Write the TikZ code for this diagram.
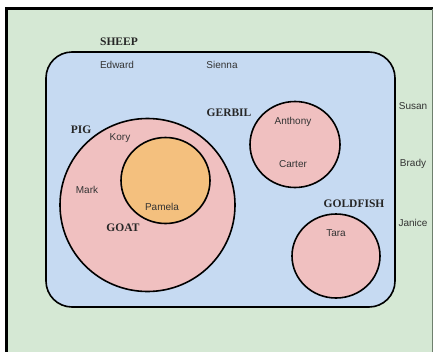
\documentclass[tikz,border=0pt]{standalone}
\usepackage{fontspec}
\setmainfont{Liberation Serif}
\setsansfont{Liberation Sans}
\usetikzlibrary{shapes.geometric}
\definecolor{outergreen}{HTML}{D5E8D4}
\definecolor{sheepblue}{HTML}{C6DAF2}
\definecolor{pinkfill}{HTML}{F0C0C0}
\definecolor{orangefill}{HTML}{F4C07E}
\definecolor{nametext}{HTML}{333333}
\definecolor{edgegray}{HTML}{6E7F6D}
\tikzset{
  setcircle/.style={draw=black, line width=1.6pt, fill=pinkfill, ellipse, inner sep=0pt},
  namelabel/.style={font=\sffamily\fontsize{10}{12}\selectfont, text=nametext, inner sep=0pt},
  setlabel/.style={font=\rmfamily\bfseries\fontsize{11.5}{13}\selectfont, text=black!85, inner sep=0pt}
}
\begin{document}
\begin{tikzpicture}[x=1pt,y=-1pt]
\useasboundingbox (0,0) rectangle (433,351);
\begin{scope}
\clip (0,0) rectangle (433,351);
\path[fill=white] (0,0) rectangle (433,351);
\fill[outergreen] (6.5,8.5) rectangle (440,370);
\draw[line width=2.2pt] (6.5,370) -- (6.5,8.5) -- (440,8.5);
\draw[edgegray, line width=1pt] (432.5,8.5) -- (432.5,370);
\end{scope}
% SHEEP rounded box
\node[draw=black, line width=1.6pt, fill=sheepblue, rounded corners=26pt,
      minimum width=349pt, minimum height=255pt, inner sep=0pt] (sheep) at (220.5,179.5) {};
% PIG circle
\node[setcircle, minimum width=175pt, minimum height=173pt] (pig) at (147.5,205) {};
% GOAT circle (Pamela)
\node[setcircle, fill=orangefill, minimum width=89pt, minimum height=86pt] (goat) at (165.5,180.5) {};
% GERBIL circle
\node[setcircle, minimum width=90pt, minimum height=86pt] (gerbil) at (295,144.5) {};
% GOLDFISH circle
\node[setcircle, minimum width=88pt, minimum height=84pt] (goldfish) at (336,256) {};
% set labels
\node[setlabel] (lsheep) at (119,42) {SHEEP};
\node[setlabel] (lgerbil) at (229,113) {GERBIL};
\node[setlabel] (lpig) at (81,130) {PIG};
\node[setlabel] (lgoat) at (123,228) {GOAT};
\node[setlabel] (lgoldfish) at (354,204) {GOLDFISH};
% names
\node[namelabel] (edward) at (117,65) {Edward};
\node[namelabel] (sienna) at (222,65) {Sienna};
\node[namelabel] (susan) at (413,106) {Susan};
\node[namelabel] (anthony) at (293,122) {Anthony};
\node[namelabel] (carter) at (293,164) {Carter};
\node[namelabel] (brady) at (413,164) {Brady};
\node[namelabel] (kory) at (120,138) {Kory};
\node[namelabel] (mark) at (87,190) {Mark};
\node[namelabel] (pamela) at (162,207) {Pamela};
\node[namelabel] (janice) at (413,223) {Janice};
\node[namelabel] (tara) at (336,233) {Tara};
\end{tikzpicture}
\end{document}
